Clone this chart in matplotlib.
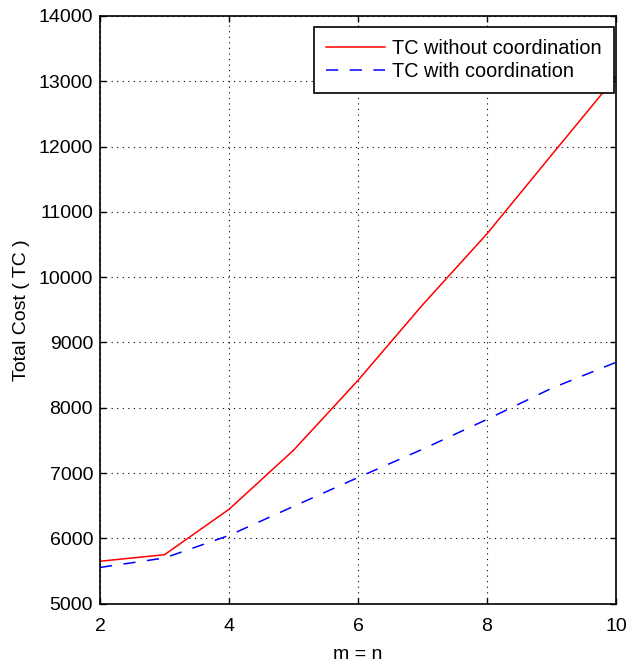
import matplotlib
matplotlib.use("Agg")
import matplotlib.pyplot as plt

plt.rcParams['font.family'] = ['Liberation Sans', 'DejaVu Sans']

m_values = [2, 3, 4, 5, 6, 7, 8, 9, 10]
tc_without = [5650, 5750, 6445, 7350, 8420, 9575, 10665, 11870, 13070]
tc_with = [5555, 5700, 6045, 6490, 6932, 7365, 7822, 8298, 8696]

xticks = [2, 4, 6, 8, 10]
yticks = list(range(5000, 14001, 1000))

fig = plt.figure(figsize=(6.27, 6.65), dpi=100)
ax = fig.add_axes([0.1595, 0.0922, 0.823, 0.8838])

ax.plot(m_values, tc_without, color='#ff0000', lw=1.1, label='TC without coordination')
ax.plot(m_values, tc_with, color='#0000ff', lw=1.1, dashes=(8, 7.5), label='TC with coordination')

ax.set_xlim(2, 10)
ax.set_ylim(5000, 14000)
ax.set_xticks(xticks)
ax.set_yticks(yticks)
ax.tick_params(direction='in', labelsize=14, length=4, top=True, right=True, width=1)
ax.tick_params(axis='x', pad=10)
ax.tick_params(axis='y', pad=5)
ax.grid(True, linestyle=(0, (1, 4)), color='black', lw=0.8)
for s in ax.spines.values():
    s.set_linewidth(1.2)

ax.set_xlabel('m = n', fontsize=14, labelpad=8)
ax.set_ylabel('Total Cost ( TC )', fontsize=14, labelpad=6)

leg = ax.legend(loc='upper right', fontsize=14.3, frameon=True, fancybox=False,
                edgecolor='black', framealpha=1, borderpad=0.6, handlelength=3.0,
                handletextpad=0.35, labelspacing=0.22, borderaxespad=0,
                bbox_to_anchor=(0.996, 0.981))
leg.get_frame().set_linewidth(1.2)

fig.savefig('out.png', dpi=100)
